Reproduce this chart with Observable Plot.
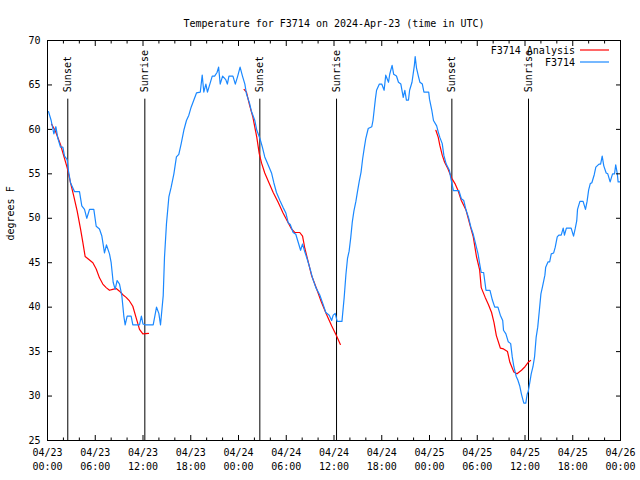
<!DOCTYPE html>
<html><head><meta charset="utf-8">
<script src="https://cdn.jsdelivr.net/npm/d3@7"></script>
<script src="https://cdn.jsdelivr.net/npm/@observablehq/plot@0.6"></script>
<style>
body{margin:0;background:#fff}
#chart svg{display:block}
</style></head><body><div id="chart"></div>
<script>
const chartTitle = "Temperature for F3714 on 2024-Apr-23 (time in UTC)";
const yLabel = "degrees F";
const seriesNames = ["F3714 Analysis", "F3714"];
const seriesColors = ["#ff0000", "#1a88ff"];
const startTime = "2024-04-23T00:00:00Z";
const endTime = "2024-04-26T00:00:00Z";
const yDomain = [25, 70];
const yTicks = [25, 30, 35, 40, 45, 50, 55, 60, 65, 70];
const sunsetHours = [2.55, 26.68, 50.81];
const sunriseHours = [12.23, 36.32, 60.44];
const markerTop = 63.4;

// F3714 observations: hours since 04/23 00:00 UTC, temperature in F
const obsHours = [0.13,0.46,0.8,1.05,1.3,1.63,1.93,2.14,2.47,2.64,2.89,3.39,4.02,4.31,4.65,4.94,5.28,5.82,6.12,6.53,6.83,7.16,7.41,7.79,8.0,8.25,8.5,8.75,9.05,9.34,9.59,9.76,10.01,10.51,10.72,11.56,11.8,12.0,12.3,13.28,13.7,13.99,14.2,14.54,14.7,14.95,15.25,15.54,15.88,16.2,16.5,16.8,17.13,17.46,17.76,18.05,18.39,18.72,19.2,19.44,19.64,19.9,20.1,20.4,20.7,21.0,21.3,21.5,21.7,22.0,22.4,22.6,22.8,23.3,23.6,23.9,24.2,24.5,24.8,25.0,25.4,25.6,26.05,26.3,26.68,27.0,27.3,27.73,28.15,28.44,28.77,29.2,29.61,29.95,30.24,30.5,30.87,31.2,31.5,31.8,32.05,32.34,32.6,32.97,33.3,33.72,34.2,34.6,34.97,35.4,35.7,35.9,36.15,36.4,37.0,37.28,37.5,37.7,37.9,38.1,38.3,38.5,38.75,38.95,39.16,39.4,39.6,39.8,40.0,40.3,40.75,40.9,41.2,41.35,41.7,42.0,42.3,42.5,42.85,43.0,43.3,43.5,43.85,44.1,44.4,44.7,44.9,45.1,45.36,45.5,45.8,46.1,46.2,46.37,46.6,46.8,47.1,47.3,47.9,48.0,48.3,48.5,48.9,49.1,49.3,49.6,49.8,50.1,50.5,50.66,51.0,51.7,52.0,52.3,52.6,52.9,53.2,53.5,53.8,54.1,54.3,54.5,54.8,55.1,55.6,55.9,56.2,56.6,56.9,57.2,57.3,57.6,57.9,58.2,58.4,58.6,58.9,59.1,59.35,59.56,59.85,60.1,60.27,60.4,60.6,60.78,61.0,61.2,61.4,61.6,61.8,62.0,62.2,62.5,62.6,62.9,63.1,63.3,63.6,63.8,64.05,64.25,64.55,64.8,64.96,65.2,65.8,66.1,66.3,66.5,66.6,66.9,67.3,67.6,67.8,68.0,68.2,68.4,68.7,68.9,69.3,69.5,69.7,69.9,70.2,70.4,70.7,71.0,71.25,71.4,71.6,71.7,72.0];
const obsTemps = [62,61,59.5,60.3,59,58,58,57,56.6,55.3,54,53,53,51.4,51,50,51,51,49.1,48.8,48,46.1,47,46,45,42.8,42,43,42.6,41.3,39,38,39,39,38,38,39,38.1,38,38,40,39.3,38,41.3,45.6,49.4,52.4,53.5,55,56.9,57.2,58.4,59.9,61,61.6,62.5,63.3,64.1,64.2,66.1,64.2,65.1,64.2,65.1,66,66,66.4,67,65.1,66,65.6,65.1,66,66,65.1,66,67,66,65.1,64,62.9,62.1,61,59.9,59,58,56.9,56,55.1,54,52.9,52,51.2,50.6,49.5,49.3,48.4,48.2,47.3,46.4,47.1,46.2,45.5,44.4,43.3,42.2,41.4,40.4,39.4,39.1,38.5,39.1,39.3,38.4,38.4,41.1,43.7,45.5,46.3,47.8,49.6,50.8,51.9,53,54.1,55.2,56.7,57.9,59,60.1,60.3,61,63.4,64.4,65.1,65.1,64.4,66.1,65.3,66.2,67.2,66.2,66,65.3,65.1,63.6,64.4,63.3,63.3,64.4,65.3,67.2,68.2,66.9,66,65.3,65.1,64.2,64.2,63.4,62.1,61,60.4,59.7,59.1,58.4,57.1,56.1,55.4,54.6,53.1,53.1,52.2,52,50.9,50.1,49,48.2,47.1,46,44.9,43.9,43.9,41.9,41.9,40.8,40,40,39.1,38.5,37.4,37,36.1,35.9,34.4,33.3,32.2,31.8,31.1,30.2,29.2,29.2,30.2,30.5,31.5,32.5,33.3,34.4,36.6,37.75,39.6,41.5,42.3,43.6,44.5,45.1,45.1,46,46.1,46.75,47.9,48.1,48.1,48.9,48.1,48.9,48.9,48,48.8,49.7,51,51.9,51.9,51,51.9,53.2,53.9,54,54.9,55.75,56.1,56.1,57,55.9,55.1,55,54.1,55,55,56,55,54.1,54.1];

// F3714 Analysis, three overnight segments
const an1Hours = [0.5,1.0,1.63,2.05,2.47,2.89,3.3,3.73,4.15,4.44,4.73,5.28,5.7,6.12,6.53,6.95,7.37,7.79,8.2,8.63,9.05,9.47,9.88,10.3,10.72,11.14,11.56,11.98,12.69];
const an1Temps = [60.6,59.8,58.3,57,55.7,54,52.5,50.8,48.8,47.3,45.7,45.3,45,44.3,43.3,42.6,42.2,41.9,42.0,42.1,41.8,41.4,41.1,40.7,40.1,38.8,37.5,37.0,37.05];
const an2Hours = [24.7,25.0,25.4,25.8,26.3,26.6,26.9,27.3,27.73,28.36,28.98,29.6,30.24,30.66,31.07,31.7,32.05,32.34,32.76,33.17,33.8,34.4,35.05,35.7,36.3,36.8];
const an2Temps = [64.5,64.2,62.7,61.4,59.1,57.3,56.2,55.1,54.2,52.9,51.8,50.6,49.5,48.8,48.4,48.4,48.0,46.6,45.1,43.6,42.1,40.6,39.2,37.9,36.8,35.8];
const an3Hours = [48.8,49.1,49.3,49.6,49.9,50.3,50.8,51.2,51.6,52.0,52.6,53.1,53.5,53.9,54.3,54.5,55.0,55.4,55.8,56.1,56.4,56.9,57.3,57.8,58.1,58.6,59.0,59.56,60.0,60.4,60.7];
const an3Temps = [59.9,59.1,58.2,57.1,56.3,55.6,54.5,53.9,53.1,52.0,50.9,49.2,47.9,45.7,44.2,42.2,41.1,40.3,39.4,38.3,36.8,35.4,35.3,35.0,33.8,32.7,32.5,32.9,33.3,33.8,34.0];

const t0 = new Date(startTime).getTime();
const toDate = h => new Date(t0 + h * 3600e3);
const obs = obsHours.map((h, i) => ({t: toDate(h), v: obsTemps[i]}));
const analysis = [[an1Hours, an1Temps], [an2Hours, an2Temps], [an3Hours, an3Temps]]
  .flatMap(([hs, vs], s) => hs.map((h, i) => ({t: toDate(h), v: vs[i], seg: s})));
const markers = [
  ...sunsetHours.map(h => ({t: toDate(h), label: "Sunset"})),
  ...sunriseHours.map(h => ({t: toDate(h), label: "Sunrise"}))
];
const xDomain = [new Date(startTime), new Date(endTime)];
const majorTicks = d3.utcHour.every(6).range(xDomain[0], new Date(+xDomain[1] + 1));
const minorTicks = d3.utcHour.every(2).range(xDomain[0], new Date(+xDomain[1] + 1)).filter(d => d.getUTCHours() % 6 !== 0);
const fmt = d3.utcFormat("%m/%d\n%H:%M");
const font = "DejaVu Sans Mono, monospace";

const plot = Plot.plot({
  width: 640, height: 480,
  marginTop: 40, marginBottom: 40, marginLeft: 47, marginRight: 20,
  style: {fontFamily: font, fontSize: "10px", color: "black", background: "white"},
  x: {type: "utc", domain: xDomain, label: null},
  y: {domain: yDomain, label: null},
  marks: [
    Plot.ruleX(markers, {x: "t", y1: yDomain[0], y2: markerTop, stroke: "black", strokeWidth: 1}),
    Plot.text(markers, {x: "t", y: markerTop, text: "label", rotate: -90, textAnchor: "start", lineAnchor: "middle", dy: -7, fill: "black"}),
    Plot.line(analysis, {x: "t", y: "v", z: "seg", stroke: seriesColors[0], strokeWidth: 1.2}),
    Plot.line(obs, {x: "t", y: "v", stroke: seriesColors[1], strokeWidth: 1.2}),
    Plot.frame({stroke: "black"}),
    Plot.axisX({anchor: "bottom", ticks: majorTicks, tickSize: -5, tickFormat: () => null, label: null}),
    Plot.axisX({anchor: "top", ticks: majorTicks, tickSize: -5, tickFormat: () => null, label: null}),
    Plot.axisX({anchor: "bottom", ticks: minorTicks, tickSize: -2.5, tickFormat: () => null, label: null}),
    Plot.axisX({anchor: "top", ticks: minorTicks, tickSize: -2.5, tickFormat: () => null, label: null}),
    Plot.axisX({anchor: "bottom", ticks: majorTicks, tickSize: 0, tickPadding: 6, tickFormat: fmt, lineHeight: 1.4, label: null}),
    Plot.axisY({anchor: "left", ticks: yTicks, tickSize: -5, tickFormat: () => null, label: null}),
    Plot.axisY({anchor: "right", ticks: yTicks, tickSize: -5, tickFormat: () => null, label: null}),
    Plot.axisY({anchor: "left", ticks: yTicks, tickSize: 0, tickPadding: 7, tickFormat: d => String(d), label: null}),
    Plot.text([chartTitle], {frameAnchor: "top", dy: -21, text: d => d, fill: "black"}),
    Plot.text([yLabel], {frameAnchor: "left", dx: -37, text: d => d, rotate: -90, fill: "black"})
  ]
});
document.getElementById("chart").appendChild(plot);

// legend (top right inside the frame)
const svg = d3.select(plot.tagName.toLowerCase() === "svg" ? plot : plot.querySelector("svg"));
const legend = svg.append("g").attr("font-family", font).attr("font-size", 10);
seriesNames.forEach((name, i) => {
  const y = 50 + i * 12;
  legend.append("text").attr("x", 575).attr("y", y).attr("dy", "0.35em").attr("text-anchor", "end").attr("fill", "black").text(name);
  legend.append("line").attr("x1", 580).attr("x2", 609).attr("y1", y).attr("y2", y).attr("stroke", seriesColors[i]).attr("stroke-width", 1.2);
});
</script></body></html>
